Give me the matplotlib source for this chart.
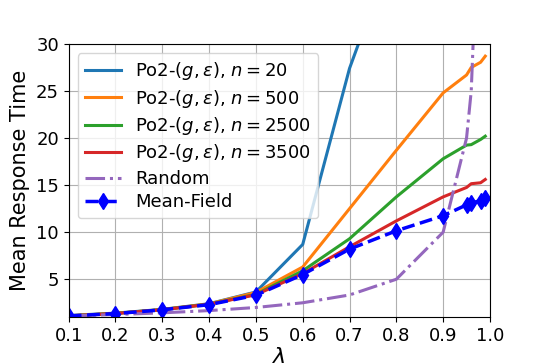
import matplotlib
matplotlib.use("Agg")
import matplotlib.pyplot as plt

lam = [0.1, 0.2, 0.3, 0.4, 0.5, 0.6, 0.7, 0.8, 0.9, 0.95, 0.96, 0.98, 0.99]

po2_n20 = [1.15, 1.4, 1.8, 2.4, 3.65, 8.7, 27.4, 41.0, 70.0, 90.0, 95.0, 110.0, 120.0]
po2_n500 = [1.12, 1.38, 1.78, 2.38, 3.6, 6.3, 12.5, 18.7, 24.8, 26.7, 27.5, 28.05, 28.7]
po2_n2500 = [1.1, 1.37, 1.77, 2.35, 3.4, 5.9, 9.3, 13.75, 17.8, 19.25, 19.3, 19.85, 20.2]
po2_n3500 = [1.1, 1.36, 1.76, 2.34, 3.35, 5.6, 8.45, 11.2, 13.75, 14.75, 15.15, 15.25, 15.6]
random_vals = [1.11, 1.25, 1.43, 1.67, 2.0, 2.5, 3.33, 5.0, 10.0, 20.0, 25.0, 50.0, 100.0]
mean_field = [1.1, 1.35, 1.75, 2.3, 3.3, 5.5, 8.2, 10.15, 11.75, 12.9, 13.1, 13.35, 13.6]

xticks = [0.1, 0.2, 0.3, 0.4, 0.5, 0.6, 0.7, 0.8, 0.9, 1.0]
yticks = [5, 10, 15, 20, 25, 30]

fig = plt.figure(figsize=(5.45, 3.63), dpi=100)
ax = fig.add_axes([0.126, 0.127, 0.773, 0.752])

lw = 2.2
ax.plot(lam, po2_n20, color="tab:blue", lw=lw, label=r"Po2-$(g,\epsilon)$, $n=20$")
ax.plot(lam, po2_n500, color="tab:orange", lw=lw, label=r"Po2-$(g,\epsilon)$, $n=500$")
ax.plot(lam, po2_n2500, color="tab:green", lw=lw, label=r"Po2-$(g,\epsilon)$, $n=2500$")
ax.plot(lam, po2_n3500, color="tab:red", lw=lw, label=r"Po2-$(g,\epsilon)$, $n=3500$")
ax.plot(lam, random_vals, color="tab:purple", lw=lw, ls="-.", label="Random")
ax.plot(lam, mean_field, color="blue", lw=lw + 0.3, ls="--", marker="d", markersize=8,
        label="Mean-Field")

ax.set_xlim(0.1, 1.0)
ax.set_ylim(1, 30)
ax.set_xticks(xticks)
ax.set_yticks(yticks)
ax.tick_params(labelsize=13)
ax.grid(True, color="#b0b0b0", lw=0.8)
ax.set_xlabel(r"$\lambda$", fontsize=16, labelpad=2)
ax.set_ylabel("Mean Response Time", fontsize=15)
ax.legend(loc="upper left", fontsize=13, handlelength=2.0, labelspacing=0.3)

fig.savefig("out.png", dpi=100)
